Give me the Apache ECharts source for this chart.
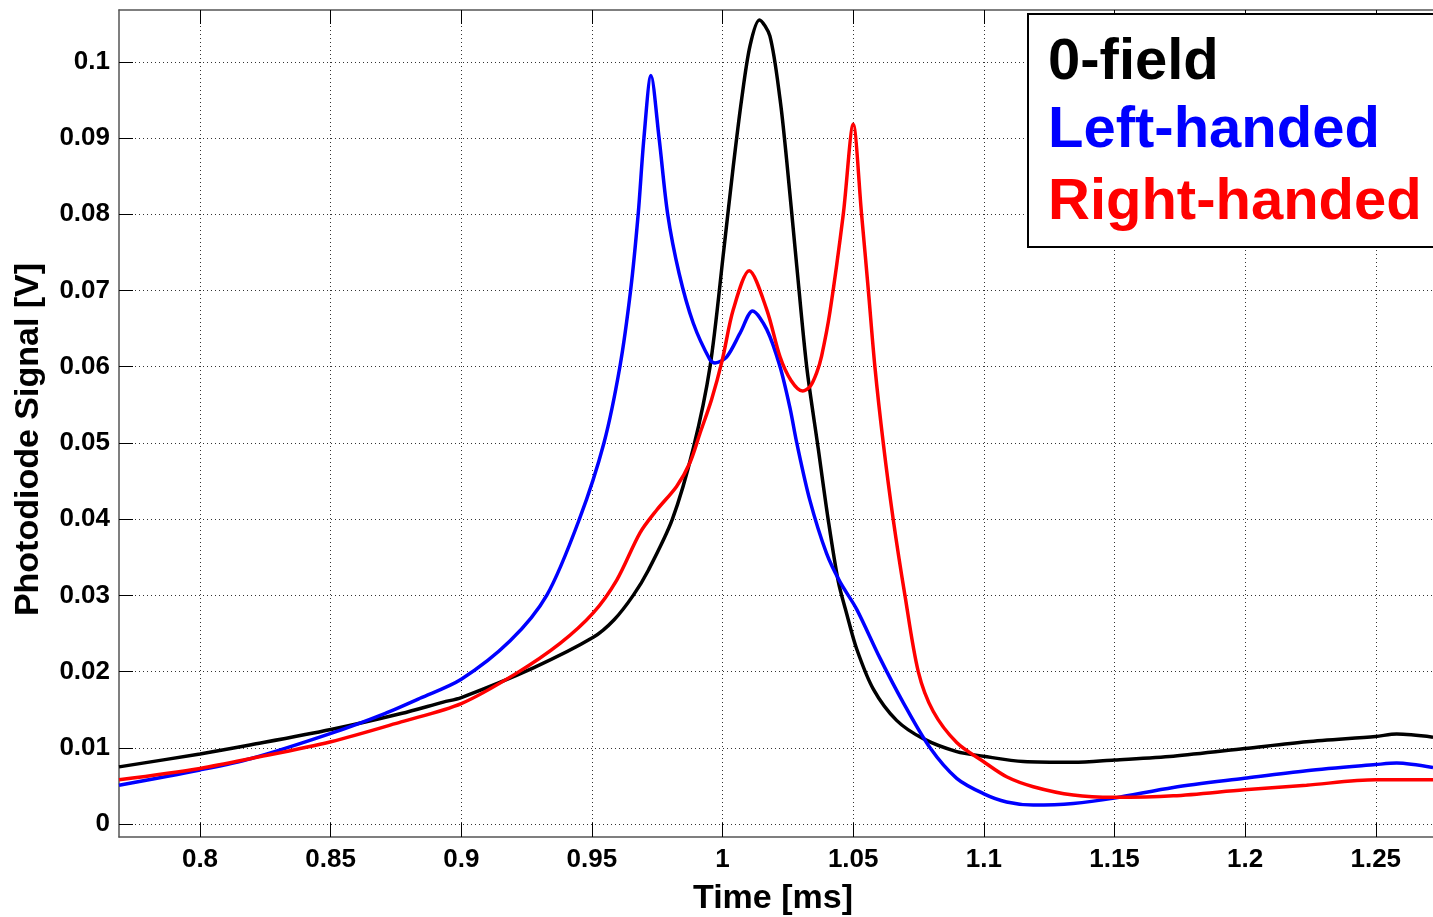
<!DOCTYPE html>
<html>
<head>
<meta charset="utf-8">
<style>
  html, body { margin: 0; padding: 0; background: #fff; }
  #chart { width: 1433px; height: 917px; }
</style>
<script src="https://cdn.jsdelivr.net/npm/echarts@6/dist/echarts.min.js"></script>
</head>
<body>
<div id="chart"></div>
<script>
// ---- Data ----
const seriesNames = ['0-field', 'Left-handed', 'Right-handed'];
const seriesColors = ['#000000', '#0000ff', '#ff0000'];

const xTickValues = [0.8, 0.85, 0.9, 0.95, 1, 1.05, 1.1, 1.15, 1.2, 1.25];
const yTickValues = [0, 0.01, 0.02, 0.03, 0.04, 0.05, 0.06, 0.07, 0.08, 0.09, 0.1];

const zeroFieldTime = [0.769, 0.8, 0.8196, 0.8501, 0.877, 0.8931, 0.9, 0.9276, 0.9505, 0.9585, 0.9658, 0.9716, 0.9808, 0.9888, 0.9952, 1.0005, 1.0041, 1.0073, 1.0105, 1.0141, 1.0181, 1.022, 1.0245, 1.0284, 1.0322, 1.0366, 1.0404, 1.0443, 1.0475, 1.0513, 1.0577, 1.0666, 1.0768, 1.0896, 1.0998, 1.1151, 1.1342, 1.1499, 1.1725, 1.1997, 1.2235, 1.25, 1.258, 1.2719];
const zeroFieldSignal = [0.0075, 0.0092, 0.0104, 0.0124, 0.0145, 0.016, 0.0166, 0.0205, 0.0245, 0.0268, 0.03, 0.0333, 0.04, 0.0493, 0.06, 0.0754, 0.0863, 0.0951, 0.1021, 0.1055, 0.1034, 0.0951, 0.0872, 0.0732, 0.06, 0.0493, 0.04, 0.0318, 0.0276, 0.023, 0.0177, 0.0136, 0.0112, 0.0095, 0.0089, 0.0082, 0.0081, 0.0084, 0.0089, 0.0099, 0.0108, 0.0115, 0.0118, 0.0114];

const leftTime = [0.769, 0.8, 0.8196, 0.8501, 0.8707, 0.8842, 0.9, 0.9186, 0.9327, 0.9452, 0.9546, 0.9607, 0.9648, 0.9677, 0.9699, 0.9726, 0.9757, 0.979, 0.9834, 0.9888, 0.9952, 0.9971, 1.0016, 1.0067, 1.0115, 1.0169, 1.022, 1.0258, 1.0284, 1.0334, 1.0398, 1.0449, 1.0513, 1.0602, 1.0692, 1.0794, 1.0896, 1.0998, 1.1087, 1.1189, 1.1342, 1.1499, 1.1725, 1.1997, 1.2235, 1.25, 1.258, 1.2719];
const leftSignal = [0.0051, 0.0071, 0.0086, 0.0119, 0.0145, 0.0165, 0.019, 0.024, 0.03, 0.04, 0.05, 0.06, 0.07, 0.08, 0.09, 0.0982, 0.09, 0.08, 0.0722, 0.0657, 0.0609, 0.0605, 0.0613, 0.0644, 0.0673, 0.0649, 0.06, 0.0546, 0.05, 0.0425, 0.0355, 0.0318, 0.0282, 0.0218, 0.0159, 0.01, 0.006, 0.004, 0.0029, 0.0025, 0.0027, 0.0034, 0.0048, 0.006, 0.007, 0.0078, 0.008, 0.0074];

const rightTime = [0.769, 0.8, 0.8196, 0.8501, 0.877, 0.9, 0.9212, 0.9378, 0.9505, 0.9595, 0.9684, 0.9748, 0.9824, 0.9875, 0.9914, 0.9958, 0.9999, 1.0041, 1.0102, 1.0169, 1.022, 1.0262, 1.0307, 1.0335, 1.036, 1.0379, 1.0411, 1.0462, 1.05, 1.0532, 1.0558, 1.0583, 1.0615, 1.0653, 1.0698, 1.0749, 1.0806, 1.0896, 1.0998, 1.1087, 1.1189, 1.1342, 1.1499, 1.1725, 1.1997, 1.2235, 1.25, 1.2719];
const rightSignal = [0.0058, 0.0073, 0.0086, 0.0108, 0.0134, 0.0158, 0.0198, 0.0237, 0.0277, 0.032, 0.0382, 0.0412, 0.0443, 0.0474, 0.0513, 0.0557, 0.0609, 0.0675, 0.0726, 0.0675, 0.0613, 0.0582, 0.0568, 0.0574, 0.0592, 0.0614, 0.0672, 0.08, 0.0918, 0.08, 0.07, 0.06, 0.05, 0.04, 0.03, 0.02, 0.0148, 0.0107, 0.0082, 0.0062, 0.0049, 0.0038, 0.0035, 0.0037, 0.0045, 0.0051, 0.0058, 0.0058];

const timeSeries = [zeroFieldTime, leftTime, rightTime];
const signalSeries = [zeroFieldSignal, leftSignal, rightSignal];

// ---- Chart ----
const chart = echarts.init(document.getElementById('chart'), null, { renderer: 'canvas' });
const FONT = '"Liberation Sans", Arial, Helvetica, sans-serif';

const xMin = 0.769, xMax = 1.2719;
const yMin = -0.0017, yMax = 0.1068;

const gridLeft = 119, gridTop = 10, gridRight = 0, gridBottom = 80;

const series = seriesNames.map((name, i) => ({
  name: name,
  type: 'line',
  xAxisIndex: 0,
  yAxisIndex: 0,
  data: timeSeries[i].map((t, k) => [t, signalSeries[i][k]]),
  showSymbol: false,
  symbol: 'none',
  smooth: 0.3,
  clip: true,
  lineStyle: { color: seriesColors[i], width: 3.5 },
  itemStyle: { color: seriesColors[i] },
  z: 3 + i
}));

const legendLeft = 1027, legendTop = 13, legendWidth = 420, legendHeight = 233;
const legendTextX = 1048;
const legendBaselines = [92, 160, 232];
const legendFont = 58;

const graphics = [
  {
    type: 'rect',
    left: legendLeft, top: legendTop,
    shape: { width: legendWidth, height: legendHeight },
    style: { fill: '#ffffff', stroke: '#000000', lineWidth: 2 },
    z: 100
  }
].concat(seriesNames.map((name, i) => ({
  type: 'text',
  x: legendTextX,
  y: legendBaselines[i],
  style: {
    text: name,
    fill: seriesColors[i],
    font: 'bold ' + legendFont + 'px ' + FONT,
    textAlign: 'left',
    textVerticalAlign: 'bottom',
    verticalAlign: 'bottom'
  },
  z: 101
})));

const option = {
  backgroundColor: '#ffffff',
  animation: false,
  grid: {
    left: gridLeft, top: gridTop, right: gridRight, bottom: gridBottom,
    containLabel: false,
    outerBoundsMode: 'none'
  },
  xAxis: [
    {
      type: 'value',
      min: xMin, max: xMax,
      position: 'bottom',
      name: 'Time [ms]',
      nameLocation: 'middle',
      nameGap: 45,
      nameTextStyle: { fontFamily: FONT, fontWeight: 'bold', fontSize: 34, color: '#000', padding: [0, 6, 0, 0] },
      axisLine: { show: true, onZero: false, lineStyle: { color: '#555', width: 1.5 } },
      axisTick: { show: true, inside: true, length: 14, customValues: xTickValues, lineStyle: { color: '#000', width: 1 } },
      axisLabel: { show: true, customValues: xTickValues, margin: 10, fontFamily: FONT, fontWeight: 'bold', fontSize: 26, color: '#000',
                   showMinLabel: true, showMaxLabel: true, hideOverlap: false },
      splitLine: { show: true, lineStyle: { color: '#333', width: 1, type: [1, 3] } }
    },
    {
      type: 'value',
      min: xMin, max: xMax,
      position: 'top',
      axisLine: { show: true, onZero: false, lineStyle: { color: '#555', width: 1.5 } },
      axisTick: { show: true, inside: true, length: 14, customValues: xTickValues, lineStyle: { color: '#000', width: 1 } },
      axisLabel: { show: false },
      splitLine: { show: false }
    }
  ],
  yAxis: [
    {
      type: 'value',
      min: yMin, max: yMax,
      position: 'left',
      name: 'Photodiode Signal [V]',
      nameLocation: 'middle',
      nameGap: 73,
      nameTextStyle: { fontFamily: FONT, fontWeight: 'bold', fontSize: 34, color: '#000', padding: [0, 32, 0, 0] },
      axisLine: { show: true, onZero: false, lineStyle: { color: '#555', width: 1.5 } },
      axisTick: { show: true, inside: true, length: 14, customValues: yTickValues, lineStyle: { color: '#000', width: 1 } },
      axisLabel: { show: true, customValues: yTickValues, margin: 9, fontFamily: FONT, fontWeight: 'bold', fontSize: 26, color: '#000' },
      splitLine: { show: true, lineStyle: { color: '#333', width: 1, type: [1, 3] } }
    }
  ],
  series: series,
  graphic: graphics
};

chart.setOption(option);
</script>
</body>
</html>
